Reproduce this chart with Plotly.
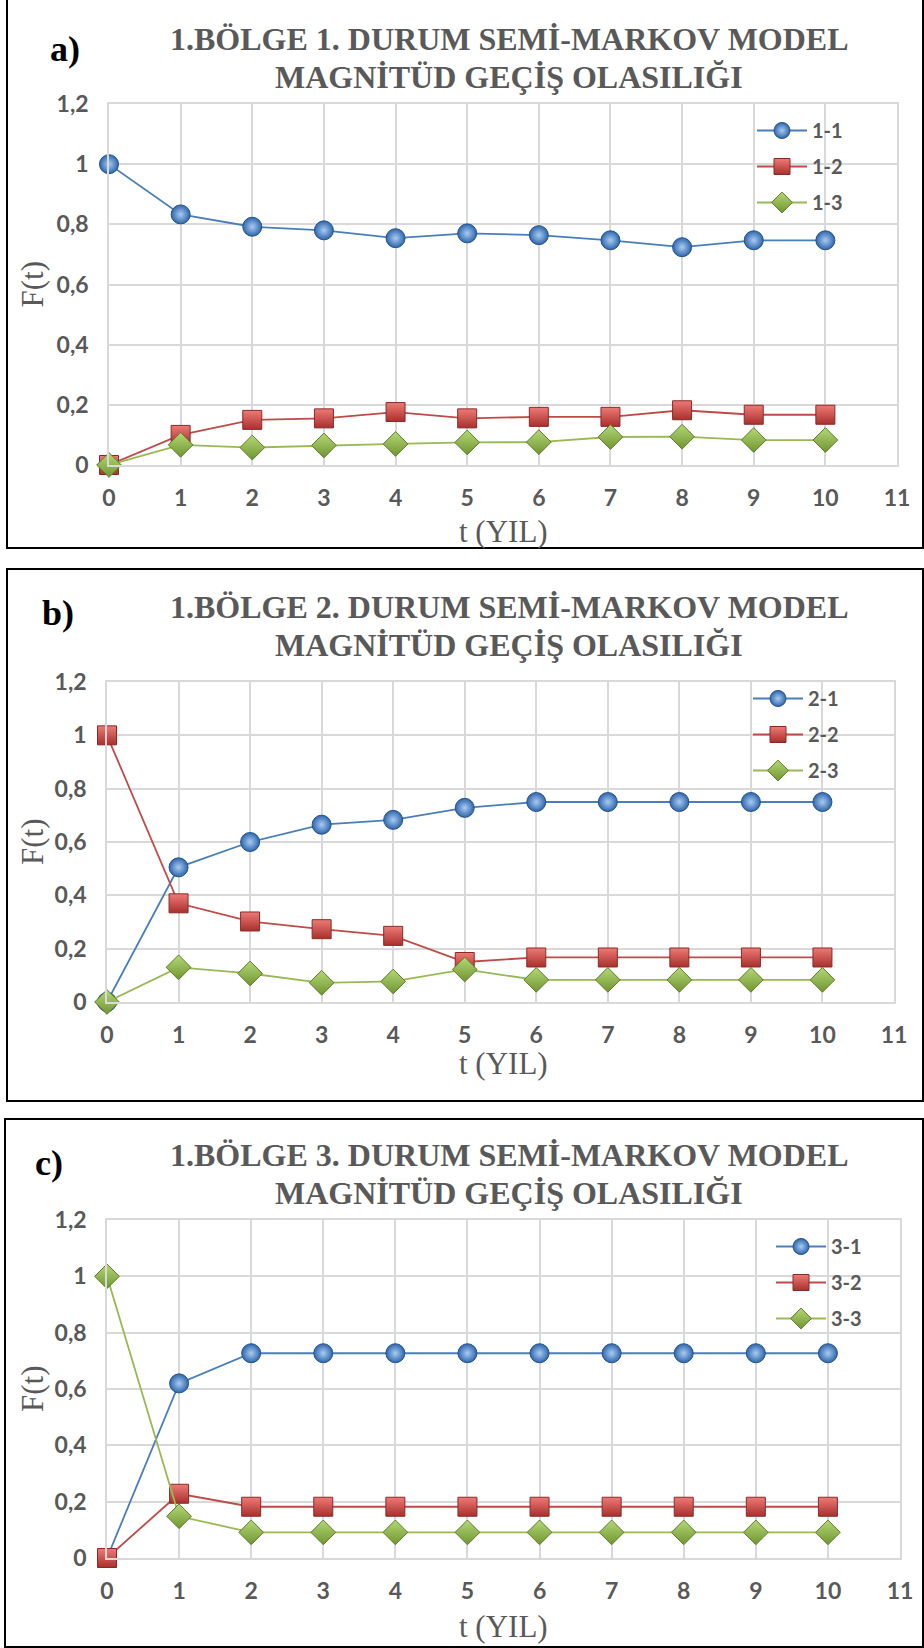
import plotly.graph_objects as go

# ---------------- data ----------------
t_years = [0, 1, 2, 3, 4, 5, 6, 7, 8, 9, 10]

a_names = ["1-1", "1-2", "1-3"]
a_11 = [1.0, 0.833, 0.792, 0.780, 0.754, 0.770, 0.764, 0.747, 0.724, 0.747, 0.747]
a_12 = [0.0, 0.100, 0.150, 0.155, 0.176, 0.155, 0.160, 0.160, 0.182, 0.167, 0.167]
a_13 = [0.0, 0.067, 0.058, 0.065, 0.070, 0.075, 0.076, 0.093, 0.094, 0.083, 0.083]

b_names = ["2-1", "2-2", "2-3"]
b_21 = [0.0, 0.505, 0.600, 0.665, 0.683, 0.728, 0.750, 0.750, 0.750, 0.750, 0.750]
b_22 = [1.0, 0.370, 0.302, 0.273, 0.248, 0.150, 0.167, 0.167, 0.167, 0.167, 0.167]
b_23 = [0.0, 0.130, 0.107, 0.072, 0.077, 0.122, 0.083, 0.083, 0.083, 0.083, 0.083]

c_names = ["3-1", "3-2", "3-3"]
c_31 = [0.0, 0.620, 0.727, 0.727, 0.727, 0.727, 0.727, 0.727, 0.727, 0.727, 0.727]
c_32 = [0.0, 0.228, 0.182, 0.182, 0.182, 0.182, 0.182, 0.182, 0.182, 0.182, 0.182]
c_33 = [1.0, 0.148, 0.091, 0.091, 0.091, 0.091, 0.091, 0.091, 0.091, 0.091, 0.091]

titles_line1 = ["1.BÖLGE 1. DURUM SEMİ-MARKOV MODEL",
                "1.BÖLGE 2. DURUM SEMİ-MARKOV MODEL",
                "1.BÖLGE 3. DURUM SEMİ-MARKOV MODEL"]
title_line2 = "MAGNİTÜD GEÇİŞ OLASILIĞI"
panel_labels = ["a)", "b)", "c)"]
x_title = "t (YIL)"
y_title = "F(t)"

# ---------------- layout helpers ----------------
W, H = 924, 1648
def px(x):
    return x / W
def py(y):
    return 1 - y / H

# plot areas in pixels: (left, right, top, bottom)
areas = [(109, 897, 104, 465), (107, 894, 682, 1002), (107, 900, 1220, 1558)]
# panel frames in pixels: (left, top, right, bottom)
frames = [(7, -2, 923, 548), (7, 569, 923, 1101), (5, 1119, 923, 1647)]
label_pos = [(65, 49), (58, 613), (49, 1163)]
title_y = [(39, 77), (607, 645), (1155, 1193)]
xtitle_y = [531, 1063, 1626]
# legend box anchors (left, top) in pixels
legend_pos = [(752, 111), (748, 679), (771, 1227)]

styles = [
    dict(color="#4a7ebb", symbol="circle", mcolor="#2f66ad", grad="#a9ccf2",
         gtype="radial", mline="#24528a"),
    dict(color="#be4b48", symbol="square", mcolor="#ee7a76", grad="#a8302d",
         gtype="vertical", mline="#8a2a28"),
    dict(color="#98b954", symbol="diamond", mcolor="#b5d877", grad="#6f9530",
         gtype="vertical", mline="#5d7d27"),
]

GRAY = "#595959"
GRID = "#d9d9d9"
tick_font = dict(family="Lato", size=23, color=GRAY, weight="bold")
serif = "Liberation Serif"

fig = go.Figure()

panels = [
    (a_names, [a_11, a_12, a_13]),
    (b_names, [b_21, b_22, b_23]),
    (c_names, [c_31, c_32, c_33]),
]

legend_keys = ["legend", "legend2", "legend3"]
for p, (names, series) in enumerate(panels):
    xa = "x" if p == 0 else f"x{p+1}"
    ya = "y" if p == 0 else f"y{p+1}"
    for k, (name, vals) in enumerate(zip(names, series)):
        s = styles[k]
        fig.add_trace(go.Scatter(
            x=t_years, y=vals, name=name, mode="lines+markers",
            xaxis=xa, yaxis=ya, legend=legend_keys[p],
            legendgroup=f"g{p}{k}", cliponaxis=False,
            line=dict(color=s["color"], width=1.8),
            marker=dict(symbol=s["symbol"], size=19, color=s["mcolor"],
                        gradient=dict(type=s["gtype"], color=s["grad"]),
                        line=dict(color=s["mline"], width=1)),
        ))

layout = dict(
    width=W, height=H,
    margin=dict(l=0, r=0, t=0, b=0, pad=0, autoexpand=False),
    paper_bgcolor="white", plot_bgcolor="white",
    separators=", ", showlegend=True,
    shapes=[], annotations=[],
)

for p, (l, r, t, b) in enumerate(areas):
    sx = "xaxis" if p == 0 else f"xaxis{p+1}"
    sy = "yaxis" if p == 0 else f"yaxis{p+1}"
    anch_x = "y" if p == 0 else f"y{p+1}"
    anch_y = "x" if p == 0 else f"x{p+1}"
    layout[sx] = dict(domain=[px(l), px(r)], anchor=anch_x, range=[0, 11],
                      tick0=0, dtick=1, showgrid=True, gridcolor=GRID, gridwidth=1.5,
                      zeroline=False, showline=True, mirror=True, linecolor=GRID,
                      linewidth=1.5, ticks="", tickfont=tick_font, automargin=False,
                      ticklabelstandoff=12, fixedrange=True)
    layout[sy] = dict(domain=[py(b), py(t)], anchor=anch_y, range=[0, 1.2],
                      tick0=0, dtick=0.2, showgrid=True, gridcolor=GRID, gridwidth=1.5,
                      zeroline=False, showline=True, mirror=True, linecolor=GRID,
                      linewidth=1.5, ticks="", tickfont=tick_font, automargin=False,
                      ticklabelstandoff=14, fixedrange=True)
    # legend
    lk = legend_keys[p]
    lx, ly = legend_pos[p]
    layout[lk] = dict(x=px(lx), y=py(ly), xanchor="left", yanchor="top",
                      bgcolor="rgba(0,0,0,0)", font=dict(family="Lato", size=20,
                      color=GRAY, weight="bold"), tracegroupgap=7, itemwidth=50)
    # frame
    fl, ft, fr, fb = frames[p]
    layout["shapes"].append(dict(type="rect", xref="paper", yref="paper",
                                 x0=px(fl), x1=px(fr), y0=py(fb), y1=py(ft),
                                 line=dict(color="black", width=2)))
    # titles
    cx = 509
    t1, t2 = title_y[p]
    layout["annotations"].append(dict(text=titles_line1[p], xref="paper", yref="paper",
        x=px(cx), y=py(t1), xanchor="center", yanchor="middle", showarrow=False,
        font=dict(family=serif, size=32, color=GRAY, weight="bold")))
    layout["annotations"].append(dict(text=title_line2, xref="paper", yref="paper",
        x=px(cx), y=py(t2), xanchor="center", yanchor="middle", showarrow=False,
        font=dict(family=serif, size=32, color=GRAY, weight="bold")))
    # panel label
    plx, ply = label_pos[p]
    layout["annotations"].append(dict(text=panel_labels[p], xref="paper", yref="paper",
        x=px(plx), y=py(ply), xanchor="center", yanchor="middle", showarrow=False,
        font=dict(family=serif, size=36, color="black", weight="bold")))
    # axis titles
    layout["annotations"].append(dict(text=y_title, xref="paper", yref="paper",
        x=px(32), y=py((t + b) / 2), xanchor="center", yanchor="middle", showarrow=False,
        textangle=-90, font=dict(family=serif, size=31, color=GRAY)))
    layout["annotations"].append(dict(text=x_title, xref="paper", yref="paper",
        x=px(503), y=py(xtitle_y[p]), xanchor="center", yanchor="middle", showarrow=False,
        font=dict(family=serif, size=31, color=GRAY)))

fig.update_layout(**layout)
fig.write_html("out.html", post_script="document.body.style.margin='0';")
